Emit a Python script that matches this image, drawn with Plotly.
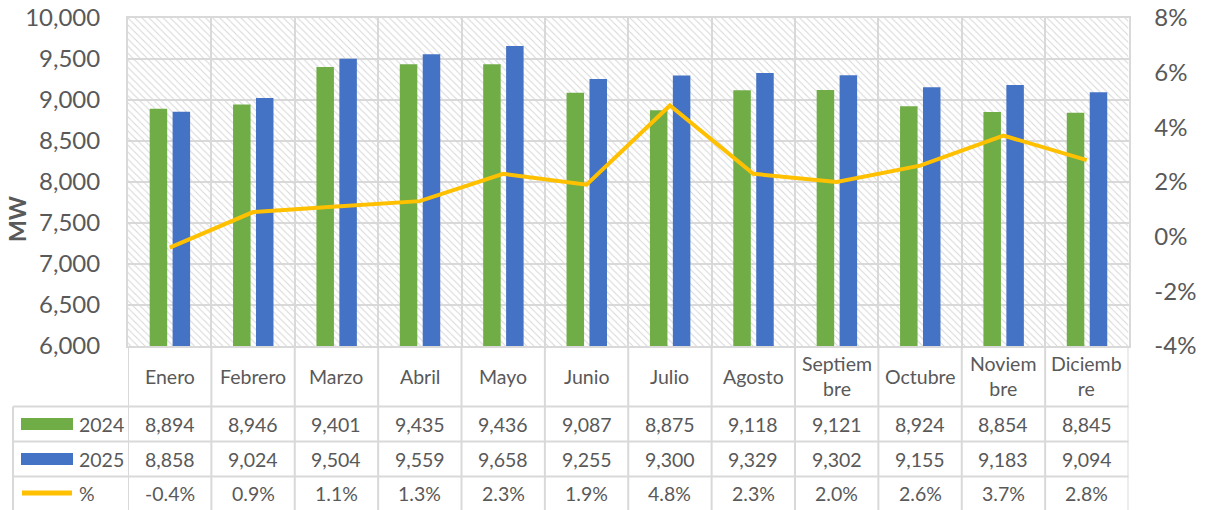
import plotly.graph_objects as go

# ---------------- data ----------------
months = ["Enero", "Febrero", "Marzo", "Abril", "Mayo", "Junio", "Julio",
          "Agosto", "Septiembre", "Octubre", "Noviembre", "Diciembre"]
month_labels = ["Enero", "Febrero", "Marzo", "Abril", "Mayo", "Junio", "Julio",
                "Agosto", "Septiem<br>bre", "Octubre", "Noviem<br>bre", "Diciemb<br>re"]
mw_2024 = [8894, 8946, 9401, 9435, 9436, 9087, 8875, 9118, 9121, 8924, 8854, 8845]
mw_2025 = [8858, 9024, 9504, 9559, 9658, 9255, 9300, 9329, 9302, 9155, 9183, 9094]
pct_change = [-0.4, 0.9, 1.1, 1.3, 2.3, 1.9, 4.8, 2.3, 2.0, 2.6, 3.7, 2.8]
series_names = ["2024", "2025", "%"]
left_ticks = [6000, 6500, 7000, 7500, 8000, 8500, 9000, 9500, 10000]
right_ticks = [-4, -2, 0, 2, 4, 6, 8]
y_title = "MW"

# ---------------- style / geometry ----------------
W, H = 1208, 510
FONT = "Lato"
TXT = "#595959"
GRID = "#d9d9d9"
GREEN, BLUE, YELLOW = "#70AD47", "#4472C4", "#FFC000"

PL, PR, PT, PB = 128, 1128.5, 18, 346
ROWS = [406.5, 441.5, 476.5]   # table horizontal lines
ROW_CENTERS = [424, 459, 493]
TL = 13


def px(x):
    return x / W


def py(y):
    return 1 - y / H


fig = go.Figure()

# hatched plot background
fig.add_trace(go.Bar(
    x=months, y=[left_ticks[-1] - left_ticks[0]] * len(months), base=left_ticks[0],
    width=1, offset=-0.5,
    marker=dict(color="#d6d6d6", line=dict(width=0),
                pattern=dict(shape="\\", size=5, solidity=0.2, fillmode="replace")),
    hoverinfo="skip", showlegend=False,
))

fig.add_trace(go.Bar(
    x=months, y=mw_2024, name=series_names[0], width=0.21, offset=-0.24,
    marker=dict(color=GREEN, line=dict(width=0)), showlegend=False,
))
fig.add_trace(go.Bar(
    x=months, y=mw_2025, name=series_names[1], width=0.21, offset=0.035,
    marker=dict(color=BLUE, line=dict(width=0)), showlegend=False,
))
fig.add_trace(go.Scatter(
    x=months, y=pct_change, name=series_names[2], yaxis="y2", mode="lines",
    line=dict(color=YELLOW, width=4), showlegend=False,
))

shapes = []
line_style = dict(color=GRID, width=2)
# table horizontal lines
for yy in ROWS:
    shapes.append(dict(type="line", xref="paper", yref="paper",
                       x0=px(TL), x1=px(PR), y0=py(yy), y1=py(yy), line=line_style))
# left edge of the label column
shapes.append(dict(type="line", xref="paper", yref="paper",
                   x0=px(TL), x1=px(TL), y0=py(ROWS[0]), y1=0, line=line_style))
# vertical table lines at category boundaries
for i in range(len(months) + 1):
    shapes.append(dict(type="line", xref="x", yref="paper",
                       x0=i - 0.5, x1=i - 0.5, y0=py(PB), y1=0, line=line_style))
# legend keys
shapes.append(dict(type="rect", xref="paper", yref="paper", x0=px(21), x1=px(73),
                   y0=py(430), y1=py(418), fillcolor=GREEN, line=dict(width=0)))
shapes.append(dict(type="rect", xref="paper", yref="paper", x0=px(21), x1=px(73),
                   y0=py(465), y1=py(453), fillcolor=BLUE, line=dict(width=0)))
shapes.append(dict(type="line", xref="paper", yref="paper", x0=px(22), x1=px(72),
                   y0=py(493), y1=py(493), line=dict(color=YELLOW, width=5)))

annotations = []
tfont = dict(family=FONT, size=19.5, color=TXT)
for m, lab in zip(months, month_labels):
    annotations.append(dict(x=m, xref="x", y=py(376), yref="paper", text=lab,
                            showarrow=False, font=tfont, xanchor="center", yanchor="middle"))
rows_text = [
    [f"{v:,}" for v in mw_2024],
    [f"{v:,}" for v in mw_2025],
    [f"{v:.1f}%" for v in pct_change],
]
for r, vals in enumerate(rows_text):
    annotations.append(dict(x=px(77), xref="paper", y=py(ROW_CENTERS[r]), yref="paper",
                            text=series_names[r], showarrow=False, font=tfont,
                            xanchor="left", yanchor="middle"))
    for m, t in zip(months, vals):
        annotations.append(dict(x=m, xref="x", y=py(ROW_CENTERS[r]), yref="paper", text=t,
                                showarrow=False, font=tfont, xanchor="center", yanchor="middle"))
# y-axis title
annotations.append(dict(x=px(17), xref="paper", y=py(219), yref="paper", text=f"<b>{y_title}</b>",
                        textangle=-90, showarrow=False,
                        font=dict(family=FONT, size=23, color=TXT),
                        xanchor="center", yanchor="middle"))

fig.update_layout(
    template="none",
    width=W, height=H,
    margin=dict(l=0, r=0, t=0, b=0, autoexpand=False),
    paper_bgcolor="white", plot_bgcolor="white",
    barmode="overlay",
    font=dict(family=FONT, color=TXT),
    xaxis=dict(type="category", categoryarray=months, range=[-0.5, len(months) - 0.5],
               domain=[px(PL), px(PR)], showgrid=True, gridcolor=GRID, gridwidth=2,
               tickson="boundaries", showticklabels=False, ticks="", zeroline=False,
               showline=True, mirror=True, linecolor=GRID, linewidth=2, automargin=False),
    yaxis=dict(range=[left_ticks[0], left_ticks[-1]], tickvals=left_ticks,
               ticktext=[f"{v:,}" for v in left_ticks],
               domain=[py(PB), py(PT)], showgrid=True, gridcolor=GRID, gridwidth=2,
               zeroline=False, ticks="outside", ticklen=21, tickcolor="rgba(0,0,0,0)",
               tickfont=dict(family=FONT, size=24, color=TXT), automargin=False,
               showline=True, mirror=True, linecolor=GRID, linewidth=2),
    yaxis2=dict(range=[right_ticks[0], right_ticks[-1]], tickvals=right_ticks,
                ticktext=[f"{v}%" for v in right_ticks],
                overlaying="y", side="right", showgrid=False, zeroline=False,
                ticks="outside", ticklen=20, tickcolor="rgba(0,0,0,0)", automargin=False,
                tickfont=dict(family=FONT, size=24, color=TXT)),
    shapes=shapes,
    annotations=annotations,
)

fig.write_html("out.html", config={"displayModeBar": False},
               post_script="document.body.style.margin='0px';document.body.style.overflow='hidden';")
